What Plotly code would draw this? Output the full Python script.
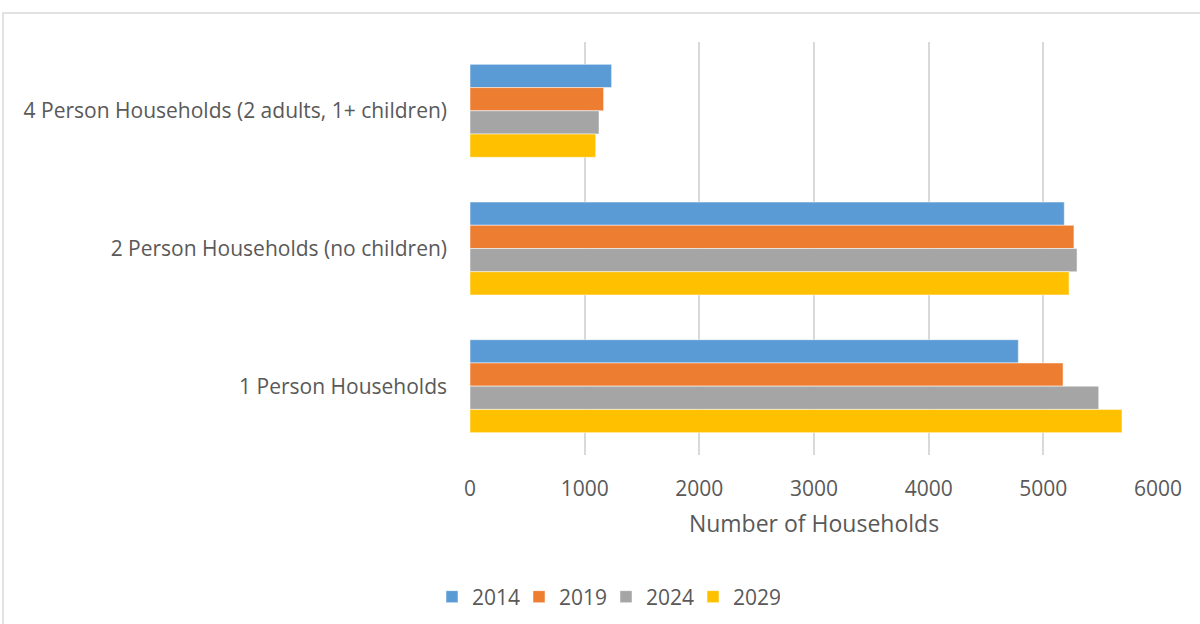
import plotly.graph_objects as go

# Household counts by type and year
categories = [
    "4 Person Households (2 adults, 1+ children)",
    "2 Person Households (no children)",
    "1 Person Households",
]
years = ["2014", "2019", "2024", "2029"]
values_2014 = [1235, 5183, 4782]
values_2019 = [1165, 5267, 5172]
values_2024 = [1125, 5294, 5483]
values_2029 = [1096, 5224, 5686]
series = [values_2014, values_2019, values_2024, values_2029]
colors = ["#5b9bd5", "#ed7d31", "#a5a5a5", "#ffc000"]
x_ticks = [0, 1000, 2000, 3000, 4000, 5000, 6000]

FONT = "Open Sans"
TEXT = "#595959"

fig = go.Figure()
for name, vals, col in zip(years, series, colors):
    fig.add_trace(go.Bar(
        y=categories, x=vals, name=name, orientation="h",
        marker=dict(color=col, line=dict(color="rgba(255,255,255,0.5)", width=1)),
    ))

L, R, T, B = 470, 42, 42, 169
W, H = 1200, 624
pw, ph = W - L - R, H - T - B

def px_x(p):
    return (p - L) / pw

def px_y(p):
    return (H - B - p) / ph

fig.update_layout(
    width=W, height=H,
    margin=dict(l=L, r=R, t=T, b=B, autoexpand=False),
    paper_bgcolor="white", plot_bgcolor="white",
    barmode="group", bargap=0.325, bargroupgap=0,
    font=dict(family=FONT, color=TEXT, size=21),
    xaxis=dict(
        range=[0, 6000], tickvals=x_ticks, showgrid=True,
        gridcolor="#d9d9d9", gridwidth=1.5, zeroline=False,
        showline=False, ticks="", ticklabelstandoff=19,
        tickfont=dict(size=21, color=TEXT),
        title=dict(text="Number of Households", font=dict(size=23, color=TEXT), standoff=14),
    ),
    yaxis=dict(
        autorange="reversed", showgrid=False, showline=False, ticks="",
        ticklabelstandoff=22, tickfont=dict(size=21, color=TEXT),
    ),
    legend=dict(
        orientation="h", x=px_x(606), xanchor="center", y=px_y(597), yanchor="middle",
        font=dict(size=21, color=TEXT), traceorder="normal",
        itemwidth=30, entrywidth=42, entrywidthmode="pixels",
    ),
    shapes=[dict(
        type="rect", xref="paper", yref="paper",
        x0=px_x(3), x1=px_x(1210), y0=px_y(640), y1=px_y(13),
        line=dict(color="#d9d9d9", width=1.5), fillcolor="rgba(0,0,0,0)", layer="below",
    )],
)

fig.write_html("out.html")
